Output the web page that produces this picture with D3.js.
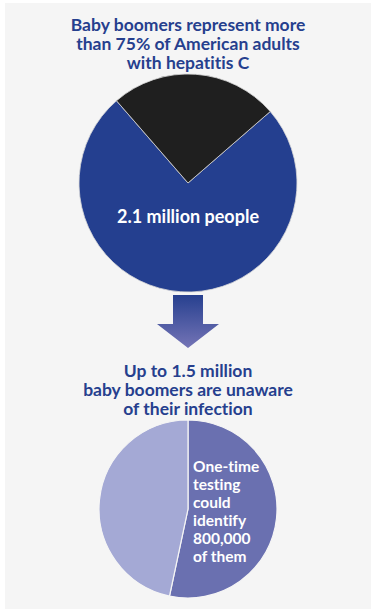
<!DOCTYPE html>
<html>
<head>
<meta charset="utf-8">
<script src="https://cdn.jsdelivr.net/npm/d3@7"></script>
<style>
  body { margin: 0; background: #ffffff; }
  svg { display: block; }
  text { font-family: Lato, "Open Sans", sans-serif; font-weight: bold; font-variant-ligatures: none; }
</style>
</head>
<body>
<svg id="chart"></svg>
<script>
// data
var topLabels = ["Baby boomers", "Other adults"];
var topValues = [75, 25];
var bottomLabels = ["Identified by one-time testing", "Remaining unaware"];
var bottomValues = [800000, 700000];
var topTitle = ["Baby boomers represent more", "than 75% of American adults", "with hepatitis C"];
var midTitle = ["Up to 1.5 million", "baby boomers are unaware", "of their infection"];
var topNote = "2.1 million people";
var bottomNote = ["One-time", "testing", "could", "identify", "800,000", "of them"];

var width = 371, height = 609;
var svg = d3.select("#chart").attr("width", width).attr("height", height);

svg.append("rect")
  .attr("x", 5).attr("y", 3)
  .attr("width", width - 5).attr("height", height - 3)
  .attr("fill", "#f5f5f5");

var defs = svg.append("defs");
var grad = defs.append("linearGradient")
  .attr("id", "arrowGrad")
  .attr("x1", 0).attr("y1", 0).attr("x2", 0).attr("y2", 1);
grad.append("stop").attr("offset", "0%").attr("stop-color", "#27408f");
grad.append("stop").attr("offset", "100%").attr("stop-color", "#7474b6");

var titleColor = "#263f8e";

// top title
svg.append("g").selectAll("text")
  .data(topTitle)
  .enter().append("text")
  .attr("x", 188)
  .attr("y", function(d, i) { return 31 + i * 19; })
  .attr("text-anchor", "middle")
  .attr("fill", titleColor)
  .style("font-size", "17.5px")
  .text(function(d) { return d; });

// top pie
var topPie = d3.pie().sort(null)
  .startAngle(49 * Math.PI / 180)
  .endAngle(49 * Math.PI / 180 + 2 * Math.PI);
var topArc = d3.arc().innerRadius(0).outerRadius(109);
var topColor = d3.scaleOrdinal().domain(topLabels).range(["#243f8f", "#1f1f1f"]);

var g1 = svg.append("g").attr("transform", "translate(188,183)");
g1.selectAll("path")
  .data(topPie(topValues))
  .enter().append("path")
  .attr("d", topArc)
  .attr("fill", function(d, i) { return topColor(topLabels[i]); })
  .attr("stroke", "#d8d8d8")
  .attr("stroke-width", 0.8);

g1.append("text")
  .attr("x", 0).attr("y", 40)
  .attr("text-anchor", "middle")
  .attr("fill", "#ffffff")
  .style("font-size", "18px")
  .text(topNote);

// arrow
var arrow = d3.path();
arrow.moveTo(173, 295);
arrow.lineTo(203, 295);
arrow.lineTo(203, 324);
arrow.lineTo(219, 324);
arrow.lineTo(188, 348);
arrow.lineTo(157, 324);
arrow.lineTo(173, 324);
arrow.closePath();
svg.append("path").attr("d", arrow.toString()).attr("fill", "url(#arrowGrad)");

// middle title
svg.append("g").selectAll("text")
  .data(midTitle)
  .enter().append("text")
  .attr("x", 188)
  .attr("y", function(d, i) { return 377 + i * 19; })
  .attr("text-anchor", "middle")
  .attr("fill", titleColor)
  .style("font-size", "17.5px")
  .text(function(d) { return d; });

// bottom pie
var bottomPie = d3.pie().sort(null);
var bottomArc = d3.arc().innerRadius(0).outerRadius(89);
var bottomColor = d3.scaleOrdinal().domain(bottomLabels).range(["#6a70b0", "#a4a9d5"]);

var g2 = svg.append("g").attr("transform", "translate(188,509)");
g2.selectAll("path")
  .data(bottomPie(bottomValues))
  .enter().append("path")
  .attr("d", bottomArc)
  .attr("fill", function(d, i) { return bottomColor(bottomLabels[i]); })
  .attr("stroke", "#f5f5f5")
  .attr("stroke-width", 1.2);

g2.selectAll("text.note")
  .data(bottomNote)
  .enter().append("text")
  .attr("class", "note")
  .attr("x", 5)
  .attr("y", function(d, i) { return -37 + i * 18; })
  .attr("fill", "#ffffff")
  .style("font-size", "15.5px")
  .text(function(d) { return d; });
</script>
</body>
</html>
